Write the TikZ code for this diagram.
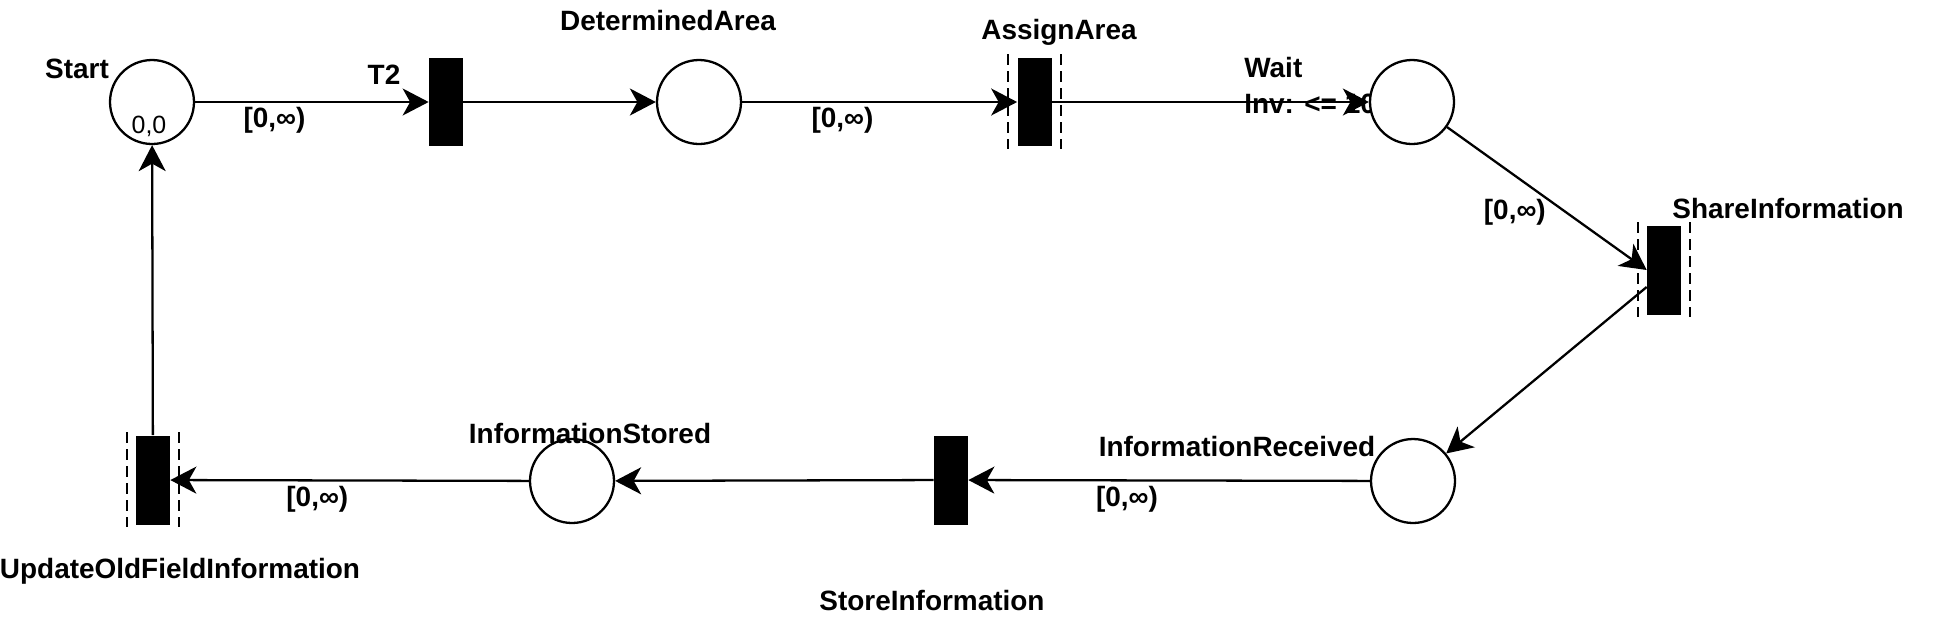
\documentclass[tikz,border=0pt]{standalone}
\usepackage{fontspec}
\setmainfont{Liberation Sans}
\usetikzlibrary{arrows.meta}

\begin{document}
\begin{tikzpicture}[x=0.02cm,y=-0.02cm,
    place/.style={circle,draw,fill=white,line width=1.3pt,minimum size=1.68cm,inner sep=0pt},
    trans/.style={rectangle,fill=black,minimum width=0.68cm,minimum height=1.78cm,inner sep=0pt},
    lbl/.style={font=\bfseries\fontsize{15.9}{19}\selectfont,inner sep=0pt},
    intv/.style={font=\bfseries\fontsize{15.9}{19}\selectfont,inner sep=2.5pt},
    arc/.style={-{Stealth[length=0.52cm,width=0.54cm,inset=0.15cm]},line width=1.3pt},
    guard/.style={dash pattern=on 0.22cm off 0.12cm,line width=1.2pt}]
    \useasboundingbox (0,0) rectangle (1943,623);
    \node[lbl,anchor=base west] (WaitLbl) at (1244,77) {Wait};
    \node[lbl,anchor=base west] (InvLbl) at (1244,113) {Inv: <= 10};
    \foreach \x/\y/\lab in {152/102/Start,699/102/DA,1412/102/Wait,1413/481/IR,572/481/IS} {
      \node[place] (\lab) at (\x,\y) {};
    }
    \foreach \x/\y/\lab in {446/102/T2,1034.5/102/AA,1664/270/SI,951/480/SIo,153/480/UO} {
      \node[trans] (\lab) at (\x,\y) {};
    }
    \foreach \t in {AA,SI,UO} {
      \draw[guard] ([xshift=-0.18cm,yshift=0.06cm]\t.north west) -- ([xshift=-0.18cm,yshift=-0.04cm]\t.south west);
      \draw[guard] ([xshift=0.18cm,yshift=0.06cm]\t.north east) -- ([xshift=0.18cm,yshift=-0.04cm]\t.south east);
    }
    \node[font=\fontsize{14.2}{17}\selectfont,inner sep=0pt,anchor=base] (Tok) at (149,133) {0,0};
    \path[arc] (Start) edge node[intv,below,pos=0.34] {[0,∞)} (T2);
    \path[arc] (T2) edge (DA);
    \path[arc] (DA) edge node[intv,below,pos=0.365] {[0,∞)} (AA);
    \path[arc] (AA) edge (Wait);
    \path[arc] (Wait) edge node[intv,anchor=north east,pos=0.5,inner sep=0pt] {[0,∞)} (SI.west);
    \path[arc] ([yshift=-0.34cm]SI.west) edge (IR);
    \path[arc] (IR) edge node[intv,below,pos=0.605] {[0,∞)} (SIo);
    \path[arc] (SIo) edge (IS);
    \path[arc] (IS) edge node[intv,below,pos=0.59] {[0,∞)} (UO);
    \path[arc] (UO) edge (Start);
    \node[lbl,anchor=base] (StartLbl) at (77,78) {Start};
    \node[lbl,anchor=base] (T2Lbl) at (384,84) {T2};
    \node[lbl,anchor=base] (DALbl) at (668,30) {DeterminedArea};
    \node[lbl,anchor=base] (AALbl) at (1059,39) {AssignArea};
    \node[lbl,anchor=base] (SILbl) at (1788,218) {ShareInformation};
    \node[lbl,anchor=base] (IRLbl) at (1237,456) {InformationReceived};
    \node[lbl,anchor=base] (ISLbl) at (590,443) {InformationStored};
    \node[lbl,anchor=base] (UOLbl) at (180,578) {UpdateOldFieldInformation};
    \node[lbl,anchor=base] (SIoLbl) at (932,610) {StoreInformation};
  \end{tikzpicture}
\end{document}
